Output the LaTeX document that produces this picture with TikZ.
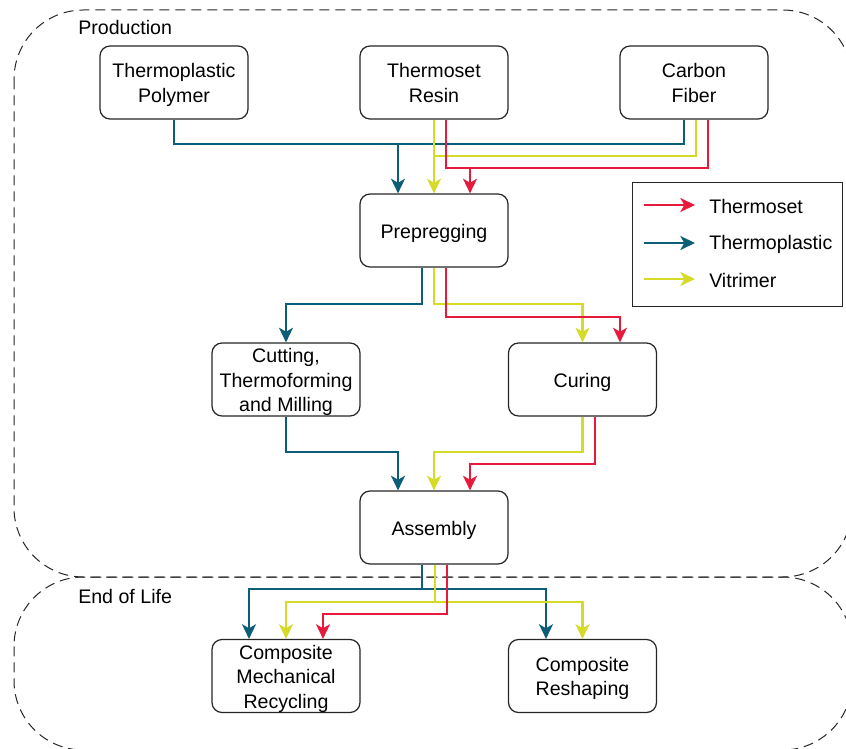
\documentclass[tikz,border=0pt]{standalone}
\usepackage{fontspec}
\setmainfont{Liberation Sans}
\usetikzlibrary{arrows.meta,calc}
\definecolor{cRed}{RGB}{232,26,60}
\definecolor{cTeal}{RGB}{12,94,120}
\definecolor{cYel}{RGB}{214,219,40}
\newcommand\fstrut{\rule{0pt}{14.5pt}}
\newcommand\dstrut{\rule[-3.2pt]{0pt}{3.2pt}}
\begin{document}
\begin{tikzpicture}[x=0.75pt,y=-0.75pt,
  font=\fontsize{14.7}{18.4}\selectfont,
  box/.style={draw=black!85, line width=0.9pt, rounded corners=7.5pt,
    minimum width=111pt, minimum height=54.75pt, align=center, inner xsep=2pt, inner ysep=0pt, fill=white,
    execute at begin node={\fstrut}},
  flow/.style={line width=1.6pt},
  arr/.style={-{Stealth[length=11pt,width=10.5pt,inset=3pt]}},
  tl/.style={flow,draw=cTeal},
  yl/.style={flow,draw=cYel},
  rd/.style={flow,draw=cRed},
  grp/.style={draw=black!85, dash pattern=on 7.5pt off 4.5pt, line width=0.75pt, rounded corners=52pt},
  lbl/.style={anchor=west, inner sep=0pt}
]
\useasboundingbox (0,0) rectangle (846,749);
\clip (0,0) rectangle (846,749);

% groups
\draw[grp] (14,10) rectangle (852,577);
\draw[grp] (14,577) rectangle (852,750);
\node[lbl] (prodlbl) at (78,27) {Production};
\node[lbl] (eollbl) at (78,596) {End of Life};

% boxes
\node[box] (tp) at (174,82.5) {\fstrut Thermoplastic\\Polymer\dstrut};
\node[box] (tr) at (434,82.5) {\fstrut Thermoset\\Resin\dstrut};
\node[box] (cf) at (694,82.5) {\fstrut Carbon\\Fiber\dstrut};
\node[box] (pp) at (434,230.5) {Prepregging};
\node[box] (ct) at (286,379.5) {\fstrut Cutting,\\Thermoforming\\and Milling\dstrut};
\node[box] (cu) at (582.5,379.5) {Curing};
\node[box] (as) at (434,527.5) {Assembly};
\node[box] (mr) at (286,676) {\fstrut Composite\\Mechanical\\Recycling\dstrut};
\node[box] (rs) at (582.5,676) {\fstrut Composite\\Reshaping\dstrut};

% top connectors
\coordinate (tj) at ($(pp.north)+(-36,-49)$);
\coordinate (yj) at ($(pp.north)+(0,-37)$);
\coordinate (rj) at ($(pp.north)+(36,-25)$);
\draw[tl,arr] (tp.south) |- (tj) -- ($(pp.north)+(-36,0)$);
\draw[tl] ($(cf.south)+(-10,0)$) |- (tj);
\draw[yl,arr] (tr.south) -- (yj) -- (pp.north);
\draw[yl] ($(cf.south)+(2,0)$) |- (yj);
\draw[rd,arr] ($(tr.south)+(12,0)$) |- (rj) -- ($(pp.north)+(36,0)$);
\draw[rd] ($(cf.south)+(14,0)$) |- (rj);

% prepregging -> cutting / curing
\draw[tl,arr] ($(pp.south)+(-12,0)$) |- ($(ct.north)+(0,-38)$) -- (ct.north);
\draw[yl,arr] (pp.south) |- ($(cu.north)+(0,-38)$) -- (cu.north);
\draw[rd,arr] ($(pp.south)+(12,0)$) |- ($(cu.north)+(37.5,-25)$) -- ($(cu.north)+(37.5,0)$);

% cutting / curing -> assembly
\draw[tl,arr] (ct.south) |- ($(as.north)+(-36,-38)$) -- ($(as.north)+(-36,0)$);
\draw[yl,arr] (cu.south) |- ($(as.north)+(0,-38)$) -- (as.north);
\draw[rd,arr] ($(cu.south)+(12.5,0)$) |- ($(as.north)+(36,-26)$) -- ($(as.north)+(36,0)$);

% assembly -> end of life
\draw[tl,arr] ($(as.south)+(-12,0)$) |- ($(mr.north)+(-37,-50)$) -- ($(mr.north)+(-37,0)$);
\draw[tl,arr] ($(as.south)+(-12,0)$) |- ($(rs.north)+(-36.5,-50)$) -- ($(rs.north)+(-36.5,0)$);
\draw[yl,arr] ($(as.south)+(1,0)$) |- ($(mr.north)+(0,-37)$) -- (mr.north);
\draw[yl,arr] ($(as.south)+(1,0)$) |- ($(rs.north)+(0,-37)$) -- (rs.north);
\draw[rd,arr] ($(as.south)+(13,0)$) |- ($(mr.north)+(37,-25)$) -- ($(mr.north)+(37,0)$);

% legend
\node[draw=black!85, line width=0.75pt, minimum width=157.5pt, minimum height=93pt, inner sep=0pt] (lg) at (737,244) {};
\coordinate (l1a) at (644,205); \coordinate (l1b) at (695,205);
\coordinate (l2a) at (644,243); \coordinate (l2b) at (695,243);
\coordinate (l3a) at (644,279); \coordinate (l3b) at (695,279);
\draw[rd,arr] (l1a) -- (l1b);
\draw[tl,arr] (l2a) -- (l2b);
\draw[yl,arr] (l3a) -- (l3b);
\node[lbl] (t1) at (709,206) {Thermoset};
\node[lbl] (t2) at (709,244) {Thermoplastic};
\node[lbl] (t3) at (709,280) {Vitrimer};
\end{tikzpicture}
\end{document}
